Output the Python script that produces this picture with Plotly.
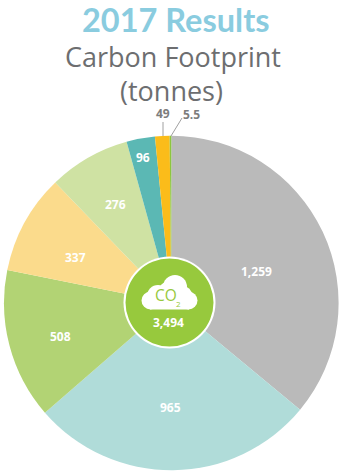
import plotly.graph_objects as go

W, H = 343, 476
categories = ["Grey", "Pale teal", "Green", "Yellow", "Light green", "Teal", "Orange", "Lime"]
values = [1259, 965, 508, 337, 276, 96, 49, 5.5]
value_labels = ["1,259", "965", "508", "337", "276", "96", "49", "5.5"]
colors = ["#bababa", "#b0dcd9", "#b2d374", "#fbdb8c", "#cfe2a3", "#5bb8b4", "#fbbc1a", "#8cc63f"]
label_pos = [(256, 271), (170, 407), (60, 336), (75, 257), (116, 204), (143, 158), (163, 113), (191, 114)]
label_col = ["#ffffff"] * 6 + ["#7d7d7d"] * 2
total_label = "3,494"


def px(x):
    return x / W


def py(y):
    return 1 - y / H


CX, CY, R = 171.3, 303, 167.3
fig = go.Figure(go.Pie(
    labels=categories, values=values, sort=False, direction="clockwise", rotation=0,
    marker=dict(colors=colors, line=dict(width=0)), textinfo="none", hoverinfo="label+value",
    showlegend=False,
    domain=dict(x=[px(CX - R), px(CX + R)], y=[py(CY + R), py(CY - R)]),
))

anns = []


def text(x, y, s, size, color, family="Open Sans", bold=False):
    anns.append(dict(x=px(x), y=py(y), xref="paper", yref="paper", text=f"<b>{s}</b>" if bold else s,
                     showarrow=False, xanchor="center", yanchor="middle",
                     font=dict(size=size, color=color, family=family)))


text(176, 20, "2017 Results", 32.5, "#8accdf", "Lato", True)
text(173, 56, "Carbon Footprint", 27, "#6d6e70")
text(171.5, 90, "(tonnes)", 27, "#6d6e70")
for (x, y), s, c in zip(label_pos, value_labels, label_col):
    text(x, y, s, 12, c, bold=True)
text(166, 295, "CO", 15.5, "#97c93d")
text(178.7, 303, "2", 8, "#97c93d")
text(168.5, 322, total_label, 12, "#ffffff", bold=True)


def circle(cx, cy, r, fill):
    return dict(type="circle", xref="paper", yref="paper", x0=px(cx - r), x1=px(cx + r),
                y0=py(cy + r), y1=py(cy - r), fillcolor=fill, line=dict(width=0), layer="above")


shapes = [
    circle(169.5, 302.5, 46, "#ffffff"),
    circle(169.5, 302.5, 44, "#97c93d"),
    circle(150.5, 300.5, 9, "#ffffff"),
    circle(158, 296, 11, "#ffffff"),
    circle(175, 287, 12, "#ffffff"),
    circle(170, 293, 12, "#ffffff"),
    circle(188.5, 300.5, 9, "#ffffff"),
    circle(183, 295, 9, "#ffffff"),
    dict(type="rect", xref="paper", yref="paper", x0=px(150), x1=px(189), y0=py(309.5), y1=py(292),
         fillcolor="#ffffff", line=dict(width=0), layer="above"),
    dict(type="line", xref="paper", yref="paper", x0=px(163), x1=px(163), y0=py(136), y1=py(122),
         line=dict(color="#a0a0a0", width=1), layer="above"),
    dict(type="line", xref="paper", yref="paper", x0=px(171), x1=px(182), y0=py(136), y1=py(118),
         line=dict(color="#a0a0a0", width=1), layer="above"),
]

fig.update_layout(width=W, height=H, autosize=False, margin=dict(l=0, r=0, t=0, b=0),
                  paper_bgcolor="#ffffff", annotations=anns, shapes=shapes)
fig.write_html("out.html", config=dict(displayModeBar=False),
               post_script="document.body.style.margin='0';document.body.style.overflow='hidden';")
